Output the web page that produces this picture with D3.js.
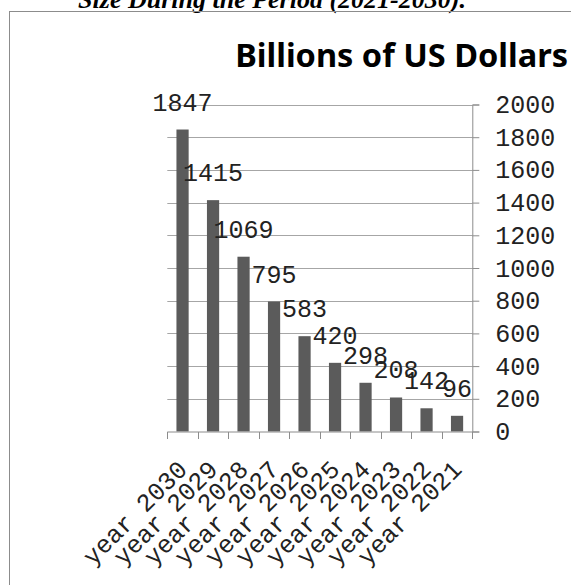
<!DOCTYPE html>
<html>
<head>
<meta charset="utf-8">
<script src="https://cdn.jsdelivr.net/npm/d3@7"></script>
<style>
  body { margin: 0; background: #fff; }
  svg { display: block; }
</style>
</head>
<body>
<svg id="chart"></svg>
<script>
// chart data
var years = ["year 2030", "year 2029", "year 2028", "year 2027", "year 2026",
             "year 2025", "year 2024", "year 2023", "year 2022", "year 2021"];
var values = [1847, 1415, 1069, 795, 583, 420, 298, 208, 142, 96];
var yTicks = [0, 200, 400, 600, 800, 1000, 1200, 1400, 1600, 1800, 2000];
var pageTitle = "Size During the Period (2021-2030).";
var chartTitle = "Billions of US Dollars";

var width = 571, height = 585;
var monoFont = "'Courier New', 'Liberation Mono', monospace";
var textColor = "#222";

var svg = d3.select("#chart")
    .attr("width", width)
    .attr("height", height);

// caption of the document, cut by the top of the page
svg.append("text")
    .attr("x", 272)
    .attr("y", 8)
    .attr("text-anchor", "middle")
    .style("font-family", "'Liberation Serif', 'Times New Roman', serif")
    .style("font-style", "italic")
    .style("font-weight", "bold")
    .style("font-size", "26px")
    .text(pageTitle);

// chart frame, it runs off the right and bottom edges
svg.append("rect")
    .attr("x", 9.5)
    .attr("y", 11.5)
    .attr("width", 600)
    .attr("height", 600)
    .style("fill", "none")
    .style("stroke", "#8c8c8c")
    .style("stroke-width", 1);

// chart title, right aligned
var t = svg.append("text")
    .attr("x", 568)
    .attr("y", 67)
    .attr("text-anchor", "end")
    .style("font-family", "'Noto Sans', 'Open Sans', sans-serif")
    .style("font-weight", "bold")
    .style("font-size", "30px")
    .text(chartTitle);
// fit the title to the width seen in the reference
var tw = t.node().getComputedTextLength();
t.style("font-size", (30 * 333 / tw) + "px");

var left = 167.3, right = 472.3;

var x = d3.scaleBand()
    .domain(years)
    .range([left, right])
    .paddingInner(0.6)
    .paddingOuter(0.3);

var y = d3.scaleLinear()
    .domain([0, 2000])
    .range([431.5, 104.5]);

// gridlines
svg.selectAll(".grid")
    .data(yTicks.slice(1))
    .enter()
    .append("line")
    .attr("class", "grid")
    .attr("x1", left)
    .attr("x2", right)
    .attr("y1", d => Math.round(y(d)) + 0.5)
    .attr("y2", d => Math.round(y(d)) + 0.5)
    .style("stroke", "#a6a6a6")
    .style("stroke-width", 1);

// bars
svg.selectAll(".bar")
    .data(values)
    .enter()
    .append("rect")
    .attr("class", "bar")
    .attr("x", (d, i) => x(years[i]))
    .attr("width", x.bandwidth())
    .attr("y", d => y(d))
    .attr("height", d => y(0) - y(d))
    .style("fill", "#5b5b5b");

// right value axis
var yAxis = svg.append("g")
    .attr("transform", "translate(" + right + ",0)")
    .call(d3.axisRight(y).tickValues(yTicks).tickFormat(d3.format("d")).tickSize(7).tickPadding(16));
yAxis.select(".domain").style("stroke", "#8c8c8c");
yAxis.selectAll(".tick line").style("stroke", "#8c8c8c");
yAxis.selectAll(".tick text")
    .style("font-family", monoFont)
    .style("font-size", "25px")
    .style("fill", textColor);

// bottom category axis: ticks sit between the bars
var gap = x.step() - x.bandwidth();
var bounds = years.map(d => x(d) - gap / 2);
bounds.push(right);

svg.append("line")
    .attr("x1", left)
    .attr("x2", right)
    .attr("y1", 432)
    .attr("y2", 432)
    .style("stroke", "#8c8c8c");

svg.selectAll(".xtick")
    .data(bounds)
    .enter()
    .append("line")
    .attr("class", "xtick")
    .attr("x1", d => Math.round(d) + 0.5)
    .attr("x2", d => Math.round(d) + 0.5)
    .attr("y1", 432)
    .attr("y2", 439)
    .style("stroke", "#8c8c8c");

svg.selectAll(".xlabel")
    .data(years)
    .enter()
    .append("text")
    .attr("class", "xlabel")
    .attr("text-anchor", "end")
    .attr("transform", d => "translate(" + (x(d) + x.bandwidth() / 2 + 6) + "," + 471 + ") rotate(-45)")
    .style("font-family", monoFont)
    .style("font-size", "25px")
    .style("fill", textColor)
    .text(d => d);

// value labels above the bars
svg.selectAll(".value")
    .data(values)
    .enter()
    .append("text")
    .attr("class", "value")
    .attr("x", (d, i) => x(years[i]) + x.bandwidth() / 2)
    .attr("y", d => y(d) - 19)
    .attr("text-anchor", "middle")
    .style("font-family", monoFont)
    .style("font-size", "25px")
    .style("fill", textColor)
    .text(d => d);
</script>
</body>
</html>
